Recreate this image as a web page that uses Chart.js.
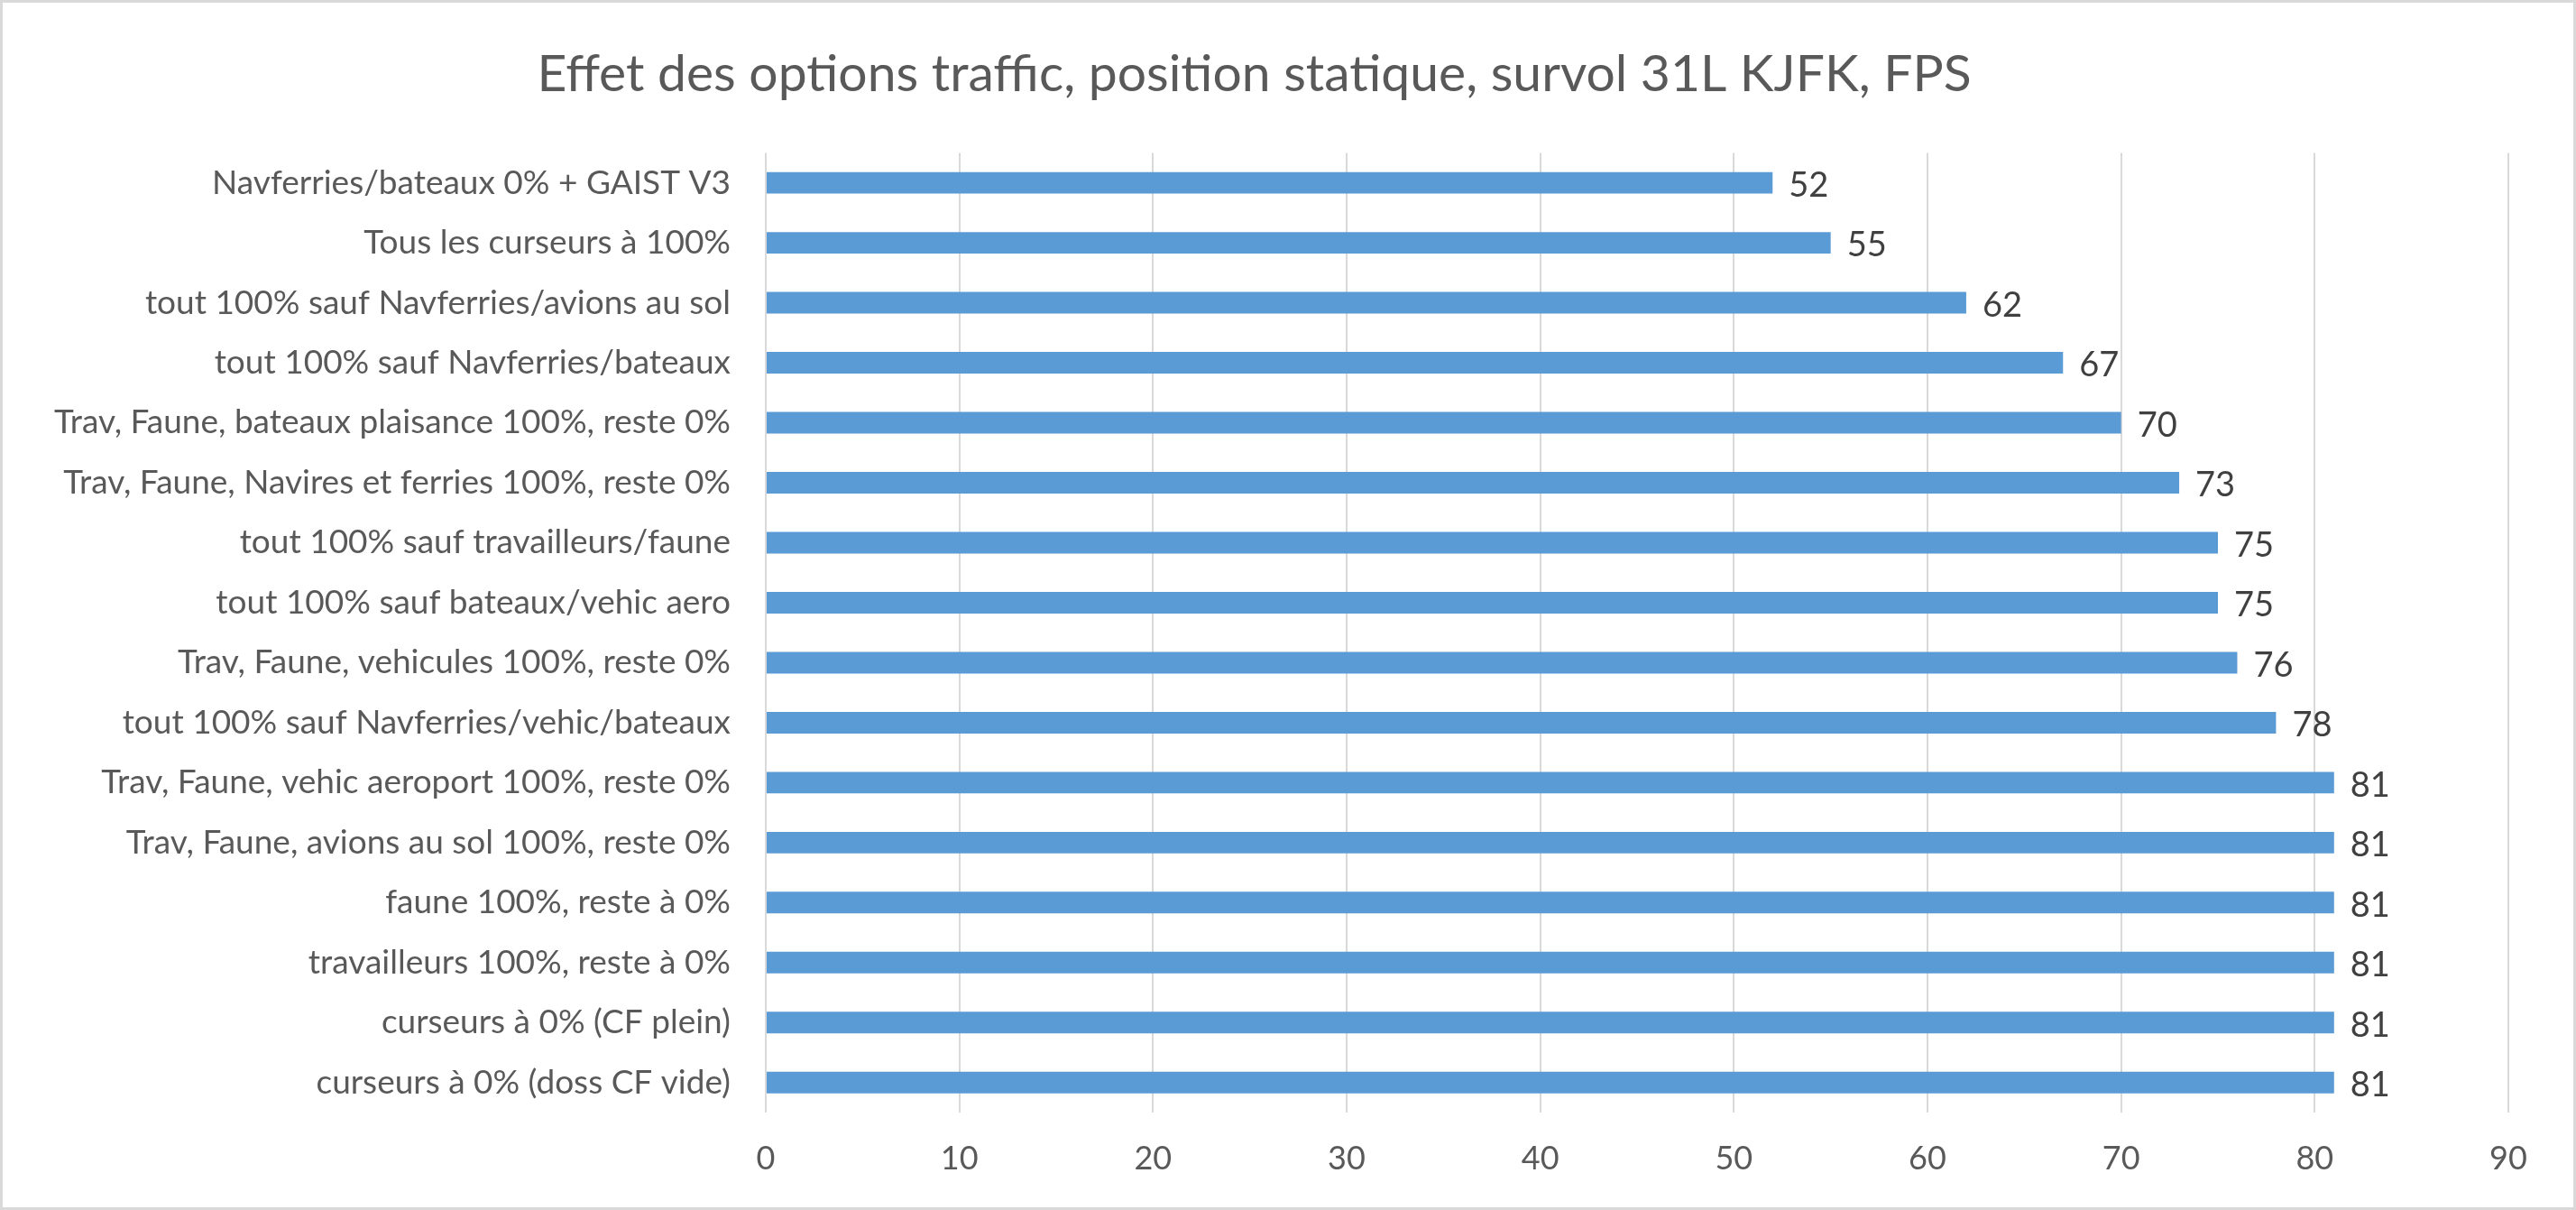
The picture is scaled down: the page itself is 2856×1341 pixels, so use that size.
<!DOCTYPE html>
<html lang="fr">
<head>
    <meta charset="UTF-8">
    <title>Effet des options traffic</title>
    <style>
        html, body { margin: 0; padding: 0; background: #ffffff; }
        .chart-container { width: 2856px; height: 1341px; position: relative; }
    </style>
</head>
<body>

<div class="chart-container">
    <canvas id="chartCanvas"></canvas>
</div>

<script src="https://cdn.jsdelivr.net/npm/chart.js"></script>
<script>
    const categories = [
        'Navferries/bateaux 0% + GAIST V3',
        'Tous les curseurs à 100%',
        'tout 100% sauf Navferries/avions au sol',
        'tout 100% sauf Navferries/bateaux',
        'Trav, Faune, bateaux plaisance 100%, reste 0%',
        'Trav, Faune, Navires et ferries 100%, reste 0%',
        'tout 100% sauf travailleurs/faune',
        'tout 100% sauf bateaux/vehic aero',
        'Trav, Faune, vehicules 100%, reste 0%',
        'tout 100% sauf Navferries/vehic/bateaux',
        'Trav, Faune, vehic aeroport 100%, reste 0%',
        'Trav, Faune, avions au sol 100%, reste 0%',
        'faune 100%, reste à 0%',
        'travailleurs 100%, reste à 0%',
        'curseurs à 0% (CF plein)',
        'curseurs à 0% (doss CF vide)'
    ];
    const fpsValues = [52, 55, 62, 67, 70, 73, 75, 75, 76, 78, 81, 81, 81, 81, 81, 81];
    const xTicks = [0, 10, 20, 30, 40, 50, 60, 70, 80, 90];

    // white background and thin grey frame, like the Excel chart area
    const frame = {
        id: 'frame',
        beforeDraw(chart) {
            const c = chart.ctx;
            c.save();
            c.fillStyle = '#ffffff';
            c.fillRect(0, 0, chart.width, chart.height);
            c.restore();
        },
        afterDraw(chart) {
            const c = chart.ctx;
            c.save();
            c.strokeStyle = '#d9d9d9';
            c.lineWidth = 3;
            c.strokeRect(1.5, 1.5, chart.width - 3, chart.height - 3);
            c.restore();
        }
    };

    // value printed at the end of every bar
    const barValues = {
        id: 'barValues',
        afterDatasetsDraw(chart) {
            const c = chart.ctx;
            const meta = chart.getDatasetMeta(0);
            c.save();
            c.font = '38px Lato';
            c.fillStyle = '#404040';
            c.textAlign = 'left';
            c.textBaseline = 'middle';
            meta.data.forEach((bar, i) => {
                c.fillText(chart.data.datasets[0].data[i], bar.x + 18, bar.y + 3);
            });
            c.restore();
        }
    };

    const ctx = document.getElementById('chartCanvas').getContext('2d');
    const fpsChart = new Chart(ctx, {
        type: 'bar',
        data: {
            labels: categories,
            datasets: [{
                data: fpsValues,
                backgroundColor: '#5b9bd5',
                barPercentage: 0.36,
                categoryPercentage: 1.0
            }]
        },
        options: {
            indexAxis: 'y',
            responsive: true,
            maintainAspectRatio: false,
            animation: false,
            layout: { padding: { left: 0, right: 75, top: 0, bottom: 0 } },
            plugins: {
                legend: { display: false },
                tooltip: { enabled: false },
                title: {
                    display: true,
                    text: 'Effet des options traffic, position statique, survol 31L KJFK, FPS',
                    color: '#595959',
                    font: { family: 'Lato', size: 57, weight: 'normal' },
                    padding: { top: 48, bottom: 53 }
                }
            },
            scales: {
                x: {
                    min: 0,
                    max: 90,
                    afterBuildTicks(scale) {
                        scale.ticks = xTicks.map(v => ({ value: v }));
                    },
                    afterFit(scale) { scale.height = 108; },
                    grid: { color: '#d9d9d9', lineWidth: 2, drawTicks: false },
                    border: { display: false },
                    ticks: {
                        color: '#595959',
                        font: { family: 'Lato', size: 36 },
                        padding: 30,
                        maxRotation: 0
                    }
                },
                y: {
                    afterFit(scale) { scale.width = 849; },
                    grid: { display: false, drawTicks: false },
                    border: { display: false },
                    ticks: {
                        color: '#595959',
                        font: { family: 'Lato', size: 37 },
                        padding: 39,
                        autoSkip: false
                    }
                }
            }
        },
        plugins: [frame, barValues]
    });
</script>

</body>
</html>
